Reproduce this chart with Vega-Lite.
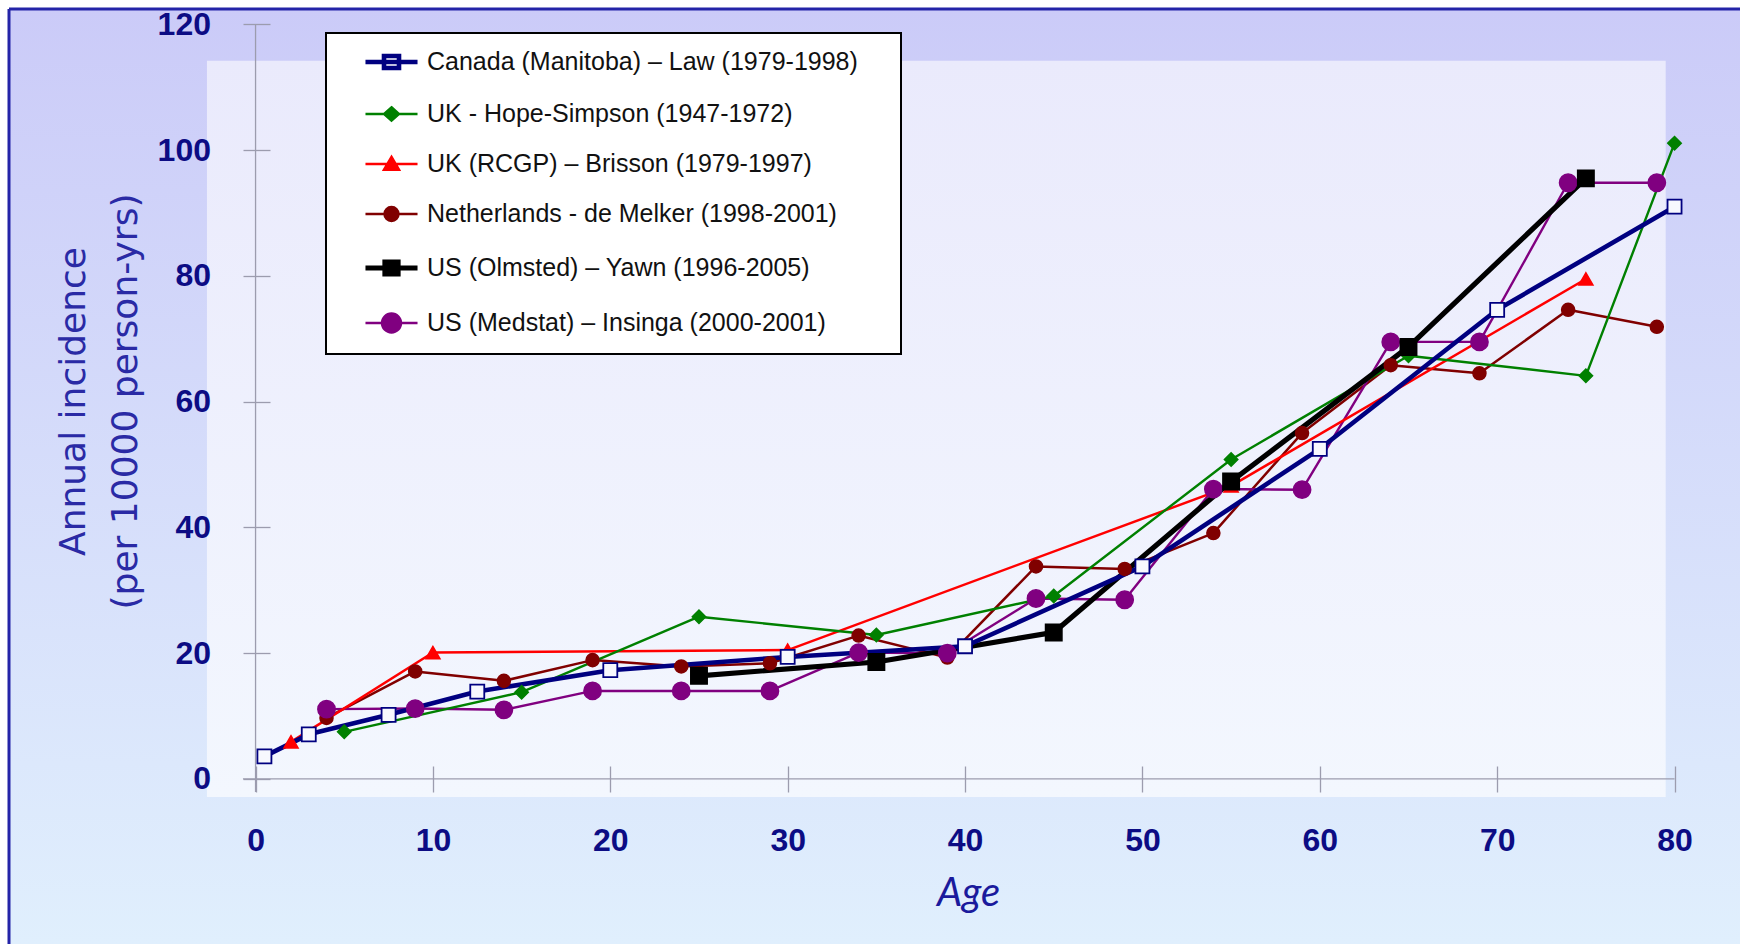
{
  "$schema": "https://vega.github.io/schema/vega-lite/v6.json",
  "width": 1731,
  "height": 935,
  "autosize": {"type": "none"},
  "padding": {"left": 9, "top": 9, "right": 0, "bottom": 0},
  "background": "#ffffff",
  "view": {"stroke": null},
  "data": {
    "values": [
      {"s": "Netherlands - de Melker (1998-2001)", "age": 4, "v": 9.7},
      {"s": "Netherlands - de Melker (1998-2001)", "age": 9, "v": 17.1},
      {"s": "Netherlands - de Melker (1998-2001)", "age": 14, "v": 15.6},
      {"s": "Netherlands - de Melker (1998-2001)", "age": 19, "v": 18.9},
      {"s": "Netherlands - de Melker (1998-2001)", "age": 24, "v": 17.9},
      {"s": "Netherlands - de Melker (1998-2001)", "age": 29, "v": 18.4},
      {"s": "Netherlands - de Melker (1998-2001)", "age": 34, "v": 22.8},
      {"s": "Netherlands - de Melker (1998-2001)", "age": 39, "v": 19.3},
      {"s": "Netherlands - de Melker (1998-2001)", "age": 44, "v": 33.8},
      {"s": "Netherlands - de Melker (1998-2001)", "age": 49, "v": 33.4},
      {"s": "Netherlands - de Melker (1998-2001)", "age": 54, "v": 39.1},
      {"s": "Netherlands - de Melker (1998-2001)", "age": 59, "v": 55.0},
      {"s": "Netherlands - de Melker (1998-2001)", "age": 64, "v": 65.8},
      {"s": "Netherlands - de Melker (1998-2001)", "age": 69, "v": 64.5},
      {"s": "Netherlands - de Melker (1998-2001)", "age": 74, "v": 74.6},
      {"s": "Netherlands - de Melker (1998-2001)", "age": 79, "v": 71.9},
      {"s": "US (Medstat) – Insinga (2000-2001)", "age": 4, "v": 11.1},
      {"s": "US (Medstat) – Insinga (2000-2001)", "age": 9, "v": 11.2},
      {"s": "US (Medstat) – Insinga (2000-2001)", "age": 14, "v": 11.0},
      {"s": "US (Medstat) – Insinga (2000-2001)", "age": 19, "v": 14.0},
      {"s": "US (Medstat) – Insinga (2000-2001)", "age": 24, "v": 14.0},
      {"s": "US (Medstat) – Insinga (2000-2001)", "age": 29, "v": 14.0},
      {"s": "US (Medstat) – Insinga (2000-2001)", "age": 34, "v": 20.1},
      {"s": "US (Medstat) – Insinga (2000-2001)", "age": 39, "v": 20.0},
      {"s": "US (Medstat) – Insinga (2000-2001)", "age": 44, "v": 28.7},
      {"s": "US (Medstat) – Insinga (2000-2001)", "age": 49, "v": 28.5},
      {"s": "US (Medstat) – Insinga (2000-2001)", "age": 54, "v": 46.1},
      {"s": "US (Medstat) – Insinga (2000-2001)", "age": 59, "v": 46.0},
      {"s": "US (Medstat) – Insinga (2000-2001)", "age": 64, "v": 69.5},
      {"s": "US (Medstat) – Insinga (2000-2001)", "age": 69, "v": 69.5},
      {"s": "US (Medstat) – Insinga (2000-2001)", "age": 74, "v": 94.8},
      {"s": "US (Medstat) – Insinga (2000-2001)", "age": 79, "v": 94.8},
      {"s": "UK (RCGP) – Brisson (1979-1997)", "age": 2, "v": 5.9},
      {"s": "UK (RCGP) – Brisson (1979-1997)", "age": 10, "v": 20.1},
      {"s": "UK (RCGP) – Brisson (1979-1997)", "age": 30, "v": 20.5},
      {"s": "UK (RCGP) – Brisson (1979-1997)", "age": 55, "v": 46.6},
      {"s": "UK (RCGP) – Brisson (1979-1997)", "age": 75, "v": 79.5},
      {"s": "UK - Hope-Simpson (1947-1972)", "age": 5, "v": 7.5},
      {"s": "UK - Hope-Simpson (1947-1972)", "age": 15, "v": 13.8},
      {"s": "UK - Hope-Simpson (1947-1972)", "age": 25, "v": 25.8},
      {"s": "UK - Hope-Simpson (1947-1972)", "age": 35, "v": 22.9},
      {"s": "UK - Hope-Simpson (1947-1972)", "age": 45, "v": 29.1},
      {"s": "UK - Hope-Simpson (1947-1972)", "age": 55, "v": 50.8},
      {"s": "UK - Hope-Simpson (1947-1972)", "age": 65, "v": 67.3},
      {"s": "UK - Hope-Simpson (1947-1972)", "age": 75, "v": 64.1},
      {"s": "UK - Hope-Simpson (1947-1972)", "age": 80, "v": 101.1},
      {"s": "US (Olmsted) – Yawn (1996-2005)", "age": 25, "v": 16.4},
      {"s": "US (Olmsted) – Yawn (1996-2005)", "age": 35, "v": 18.6},
      {"s": "US (Olmsted) – Yawn (1996-2005)", "age": 45, "v": 23.3},
      {"s": "US (Olmsted) – Yawn (1996-2005)", "age": 55, "v": 47.3},
      {"s": "US (Olmsted) – Yawn (1996-2005)", "age": 65, "v": 68.7},
      {"s": "US (Olmsted) – Yawn (1996-2005)", "age": 75, "v": 95.5},
      {"s": "Canada (Manitoba) – Law (1979-1998)", "age": 0.5, "v": 3.6},
      {"s": "Canada (Manitoba) – Law (1979-1998)", "age": 3, "v": 7.1},
      {"s": "Canada (Manitoba) – Law (1979-1998)", "age": 7.5, "v": 10.2},
      {"s": "Canada (Manitoba) – Law (1979-1998)", "age": 12.5, "v": 13.9},
      {"s": "Canada (Manitoba) – Law (1979-1998)", "age": 20, "v": 17.3},
      {"s": "Canada (Manitoba) – Law (1979-1998)", "age": 30, "v": 19.4},
      {"s": "Canada (Manitoba) – Law (1979-1998)", "age": 40, "v": 21.1},
      {"s": "Canada (Manitoba) – Law (1979-1998)", "age": 50, "v": 33.8},
      {"s": "Canada (Manitoba) – Law (1979-1998)", "age": 60, "v": 52.5},
      {"s": "Canada (Manitoba) – Law (1979-1998)", "age": 70, "v": 74.6},
      {"s": "Canada (Manitoba) – Law (1979-1998)", "age": 80, "v": 91.0}
    ]
  },
  "layer": [
    {
      "data": {"values": [{}]},
      "mark": {"type": "rect", "color": {"gradient": "linear", "x1": 0, "y1": 0, "x2": 0, "y2": 1, "stops": [{"offset": 0, "color": "#CBCBF8"}, {"offset": 1, "color": "#E0EFFD"}]}},
      "encoding": {
        "x": {"datum": -13.9, "type": "quantitative", "scale": {"domain": [-13.9, 83.69], "nice": false, "zero": false}},
        "x2": {"datum": 83.69},
        "y": {"datum": -26.24, "type": "quantitative", "scale": {"domain": [-26.24, 122.43], "nice": false, "zero": false}},
        "y2": {"datum": 122.43}
      }
    },
    {
      "data": {"values": [{}]},
      "mark": {"type": "rect", "color": {"gradient": "linear", "x1": 0, "y1": 0, "x2": 0, "y2": 1, "stops": [{"offset": 0, "color": "#EAEAFC"}, {"offset": 1, "color": "#F3F7FE"}]}},
      "encoding": {
        "x": {"datum": -2.74, "type": "quantitative", "scale": {"domain": [-13.9, 83.69], "nice": false, "zero": false}},
        "x2": {"datum": 79.5},
        "y": {"datum": -2.86, "type": "quantitative", "scale": {"domain": [-26.24, 122.43], "nice": false, "zero": false}},
        "y2": {"datum": 114.2}
      }
    },
    {
      "data": {"values": [{}]},
      "mark": {"type": "rule", "color": "#2424A8", "strokeWidth": 3},
      "encoding": {
        "x": {"datum": -13.9, "type": "quantitative", "scale": {"domain": [-13.9, 83.69], "nice": false, "zero": false}},
        "y": {"datum": -26.24, "type": "quantitative", "scale": {"domain": [-26.24, 122.43], "nice": false, "zero": false}},
        "y2": {"datum": 122.43}
      }
    },
    {
      "data": {"values": [{}]},
      "mark": {"type": "rule", "color": "#2424A8", "strokeWidth": 3},
      "encoding": {
        "x": {"datum": -13.9, "type": "quantitative", "scale": {"domain": [-13.9, 83.69], "nice": false, "zero": false}},
        "x2": {"datum": 83.69},
        "y": {"datum": 122.43, "type": "quantitative", "scale": {"domain": [-26.24, 122.43], "nice": false, "zero": false}}
      }
    },
    {
      "data": {"values": [{}]},
      "mark": {"type": "rule", "color": "#9C9CAE", "strokeWidth": 1.3},
      "encoding": {
        "x": {"datum": 0, "type": "quantitative", "scale": {"domain": [-13.9, 83.69], "nice": false, "zero": false}},
        "y": {"datum": -2.07, "type": "quantitative", "scale": {"domain": [-26.24, 122.43], "nice": false, "zero": false}},
        "y2": {"datum": 120}
      }
    },
    {
      "data": {"values": [{}]},
      "mark": {"type": "rule", "color": "#9C9CAE", "strokeWidth": 1.3},
      "encoding": {
        "x": {"datum": -0.71, "type": "quantitative", "scale": {"domain": [-13.9, 83.69], "nice": false, "zero": false}},
        "x2": {"datum": 80},
        "y": {"datum": 0, "type": "quantitative", "scale": {"domain": [-26.24, 122.43], "nice": false, "zero": false}}
      }
    },
    {
      "mark": {"type": "line", "strokeJoin": "round"},
      "encoding": {
        "x": {
          "field": "age", "type": "quantitative",
          "scale": {"domain": [-13.9, 83.69], "nice": false, "zero": false},
          "axis": {
            "orient": "bottom", "offset": -178, "values": [0, 10, 20, 30, 40, 50, 60, 70, 80], "zindex": 1,
            "domain": false, "grid": false, "ticks": true, "tickSize": 26, "tickColor": "#9C9CAE", "tickWidth": 1.3,
            "labelFont": "Liberation Sans", "labelFontWeight": "bold", "labelFontSize": 32, "labelColor": "#0C0C84",
            "labelPadding": 33, "labelAlign": "center", "labelBaseline": "top", "labelFlush": false, "labelOverlap": false,
            "title": "Age", "titleFont": "Lato", "titleFontStyle": "italic", "titleFontWeight": "normal", "titleFontSize": 40,
            "titleColor": "#1A1A9C", "titleX": 959, "titleY": 127, "titleAlign": "center", "titleBaseline": "middle", "titleAngle": 0
          }
        },
        "y": {
          "field": "v", "type": "quantitative",
          "scale": {"domain": [-26.24, 122.43], "nice": false, "zero": false},
          "axis": {
            "orient": "left", "offset": -261, "values": [0, 20, 40, 60, 80, 100, 120], "zindex": 1,
            "domain": false, "grid": false, "ticks": true, "tickSize": 27, "tickColor": "#9C9CAE", "tickWidth": 1.3,
            "labelFont": "Liberation Sans", "labelFontWeight": "bold", "labelFontSize": 32, "labelColor": "#0C0C84",
            "labelPadding": 32.5, "labelAlign": "right", "labelBaseline": "middle", "labelFlush": false, "labelOverlap": false,
            "title": ["Annual incidence", "(per 10000 person-yrs)"], "titleFont": "DejaVu Sans", "titleFontWeight": "normal",
            "titleFontSize": 36, "titleColor": "#2A2AA5", "titleAngle": -90, "titleX": -197, "titleY": 392,
            "titleAlign": "center", "titleBaseline": "middle", "titleLineHeight": 52
          }
        },
        "stroke": {
          "field": "s", "type": "nominal",
          "scale": {
            "domain": ["Canada (Manitoba) – Law (1979-1998)", "UK - Hope-Simpson (1947-1972)", "UK (RCGP) – Brisson (1979-1997)", "Netherlands - de Melker (1998-2001)", "US (Olmsted) – Yawn (1996-2005)", "US (Medstat) – Insinga (2000-2001)"],
            "range": ["#000080", "#008000", "#FF0000", "#800000", "#000000", "#800080"]
          },
          "legend": {"title": "\u00a0"}
        },
        "strokeWidth": {
          "field": "s", "type": "nominal",
          "scale": {
            "type": "ordinal",
            "domain": ["Canada (Manitoba) – Law (1979-1998)", "UK - Hope-Simpson (1947-1972)", "UK (RCGP) – Brisson (1979-1997)", "Netherlands - de Melker (1998-2001)", "US (Olmsted) – Yawn (1996-2005)", "US (Medstat) – Insinga (2000-2001)"],
            "range": [4.6, 2.4, 2.5, 2.5, 5.2, 2.4]
          },
          "legend": {"title": "\u00a0"}
        }
      }
    },
    {
      "mark": {"type": "point", "filled": true, "opacity": 0},
      "encoding": {
        "x": {"field": "age", "type": "quantitative", "scale": {"domain": [-13.9, 83.69], "nice": false, "zero": false}},
        "y": {"field": "v", "type": "quantitative", "scale": {"domain": [-26.24, 122.43], "nice": false, "zero": false}},
        "shape": {
          "field": "s", "type": "nominal",
          "scale": {
            "domain": ["Canada (Manitoba) – Law (1979-1998)", "UK - Hope-Simpson (1947-1972)", "UK (RCGP) – Brisson (1979-1997)", "Netherlands - de Melker (1998-2001)", "US (Olmsted) – Yawn (1996-2005)", "US (Medstat) – Insinga (2000-2001)"],
            "range": [
              "M-3.47,0H3.47M-1,-0.8H1V0.8H-1Z",
              "M-3.47,0H3.47M0,-0.9L1,0L0,0.9L-1,0Z",
              "M-3.47,0H3.47M0,-0.95L1,0.75L-1,0.75Z",
              "M-3.47,0H3.47M-0.93,0A0.93,0.93,0,1,1,0.93,0A0.93,0.93,0,1,1,-0.93,0Z",
              "M-3.47,0H3.47M-0.87,-0.8H0.87V0.8H-0.87Z",
              "M-3.47,0H3.47M-1.27,0A1.27,1.27,0,1,1,1.27,0A1.27,1.27,0,1,1,-1.27,0Z"
            ]
          },
          "legend": {"title": "\u00a0"}
        },
        "fill": {
          "field": "s", "type": "nominal",
          "scale": {
            "domain": ["Canada (Manitoba) – Law (1979-1998)", "UK - Hope-Simpson (1947-1972)", "UK (RCGP) – Brisson (1979-1997)", "Netherlands - de Melker (1998-2001)", "US (Olmsted) – Yawn (1996-2005)", "US (Medstat) – Insinga (2000-2001)"],
            "range": ["#FFFFFF", "#008000", "#FF0000", "#800000", "#000000", "#800080"]
          },
          "legend": {"title": "\u00a0"}
        },
        "stroke": {
          "field": "s", "type": "nominal",
          "scale": {
            "domain": ["Canada (Manitoba) – Law (1979-1998)", "UK - Hope-Simpson (1947-1972)", "UK (RCGP) – Brisson (1979-1997)", "Netherlands - de Melker (1998-2001)", "US (Olmsted) – Yawn (1996-2005)", "US (Medstat) – Insinga (2000-2001)"],
            "range": ["#000080", "#008000", "#FF0000", "#800000", "#000000", "#800080"]
          },
          "legend": {"title": "\u00a0"}
        },
        "strokeWidth": {
          "field": "s", "type": "nominal",
          "scale": {
            "type": "ordinal",
            "domain": ["Canada (Manitoba) – Law (1979-1998)", "UK - Hope-Simpson (1947-1972)", "UK (RCGP) – Brisson (1979-1997)", "Netherlands - de Melker (1998-2001)", "US (Olmsted) – Yawn (1996-2005)", "US (Medstat) – Insinga (2000-2001)"],
            "range": [4.6, 2.4, 2.5, 2.5, 5.2, 2.4]
          },
          "legend": {"title": "\u00a0"}
        }
      }
    },
    {
      "transform": [{"filter": {"field": "s", "equal": "Netherlands - de Melker (1998-2001)"}}],
      "mark": {"type": "circle", "fill": "#800000", "stroke": "#800000", "strokeWidth": 1.5, "size": 170, "opacity": 1},
      "encoding": {
        "x": {"field": "age", "type": "quantitative", "scale": {"domain": [-13.9, 83.69], "nice": false, "zero": false}},
        "y": {"field": "v", "type": "quantitative", "scale": {"domain": [-26.24, 122.43], "nice": false, "zero": false}}
      }
    },
    {
      "transform": [{"filter": {"field": "s", "equal": "US (Medstat) – Insinga (2000-2001)"}}],
      "mark": {"type": "circle", "fill": "#800080", "stroke": "#800080", "strokeWidth": 1.5, "size": 300, "opacity": 1},
      "encoding": {
        "x": {"field": "age", "type": "quantitative", "scale": {"domain": [-13.9, 83.69], "nice": false, "zero": false}},
        "y": {"field": "v", "type": "quantitative", "scale": {"domain": [-26.24, 122.43], "nice": false, "zero": false}}
      }
    },
    {
      "transform": [{"filter": {"field": "s", "equal": "UK (RCGP) – Brisson (1979-1997)"}}],
      "mark": {"type": "point", "shape": "triangle-up", "filled": true, "fill": "#FF0000", "stroke": "#FF0000", "strokeWidth": 1.5, "size": 200, "opacity": 1},
      "encoding": {
        "x": {"field": "age", "type": "quantitative", "scale": {"domain": [-13.9, 83.69], "nice": false, "zero": false}},
        "y": {"field": "v", "type": "quantitative", "scale": {"domain": [-26.24, 122.43], "nice": false, "zero": false}}
      }
    },
    {
      "transform": [{"filter": {"field": "s", "equal": "UK - Hope-Simpson (1947-1972)"}}],
      "mark": {"type": "point", "shape": "diamond", "filled": true, "fill": "#008000", "stroke": "#008000", "strokeWidth": 1.5, "size": 180, "opacity": 1},
      "encoding": {
        "x": {"field": "age", "type": "quantitative", "scale": {"domain": [-13.9, 83.69], "nice": false, "zero": false}},
        "y": {"field": "v", "type": "quantitative", "scale": {"domain": [-26.24, 122.43], "nice": false, "zero": false}}
      }
    },
    {
      "transform": [{"filter": {"field": "s", "equal": "US (Olmsted) – Yawn (1996-2005)"}}],
      "mark": {"type": "square", "fill": "#000000", "stroke": "#000000", "strokeWidth": 1.5, "size": 270, "opacity": 1},
      "encoding": {
        "x": {"field": "age", "type": "quantitative", "scale": {"domain": [-13.9, 83.69], "nice": false, "zero": false}},
        "y": {"field": "v", "type": "quantitative", "scale": {"domain": [-26.24, 122.43], "nice": false, "zero": false}}
      }
    },
    {
      "transform": [{"filter": {"field": "s", "equal": "Canada (Manitoba) – Law (1979-1998)"}}],
      "mark": {"type": "square", "fill": "#F7F8FE", "stroke": "#000080", "strokeWidth": 1.8, "size": 196, "opacity": 1},
      "encoding": {
        "x": {"field": "age", "type": "quantitative", "scale": {"domain": [-13.9, 83.69], "nice": false, "zero": false}},
        "y": {"field": "v", "type": "quantitative", "scale": {"domain": [-26.24, 122.43], "nice": false, "zero": false}}
      }
    }
  ],
  "config": {
    "legend": {
      "orient": "none", "legendX": 317, "legendY": 24,
      "fillColor": "#FFFFFF", "strokeColor": "#000000", "strokeWidth": 2, "padding": 16.5,
      "symbolSize": 225, "symbolOffset": 36.5, "labelOffset": 23, "rowPadding": 24, "symbolOpacity": 1,
      "titleOrient": "right", "titlePadding": 27, "titleFontSize": 25, "titleFont": "Liberation Sans", "titleColor": "#FFFFFF",
      "labelFont": "Liberation Sans", "labelFontSize": 25, "labelColor": "#111111", "labelLimit": 1000
    }
  }
}
